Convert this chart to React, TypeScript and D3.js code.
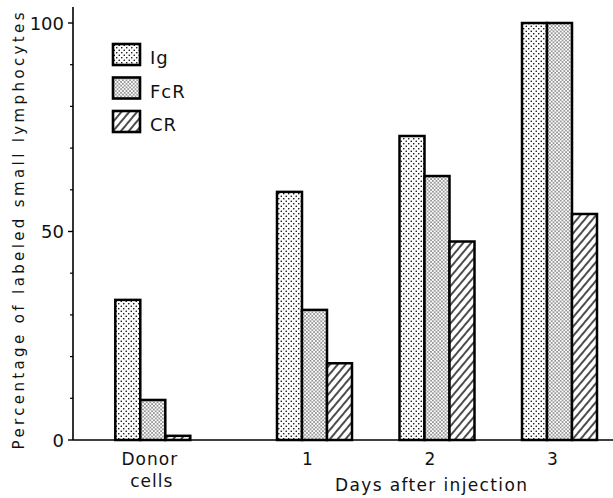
import React from "react";
import * as d3 from "d3";

// ---- data ----
const categories = ["Donor cells", "1", "2", "3"];
const seriesNames = ["Ig", "FcR", "CR"];
const igValues = [33.6, 59.5, 72.9, 100];
const fcrValues = [9.6, 31.2, 63.3, 100];
const crValues = [1, 18.4, 47.6, 54.2];
const yMajorTicks = [0, 50, 100];
const yMinorTicks = [10, 20, 30, 40, 60, 70, 80, 90];

// ---- layout ----
const W = 613;
const H = 498;
const categorySlots = [-0.32, 1, 2, 3];
const axisX = 73;
const baseY = 440;
const FONT = "'DejaVu Sans', 'Noto Sans', sans-serif";

export default function App() {
  const y = d3.scaleLinear().domain([0, 100]).range([baseY, 23]);
  const x = d3.scaleLinear().domain([1, 3]).range([314.5, 559.5]);
  const band = d3.scaleBand().domain(seriesNames).range([-37.5, 37.5]).padding(0);
  const seriesValues: Record<string, number[]> = { Ig: igValues, FcR: fcrValues, CR: crValues };
  const fills: Record<string, string> = { Ig: "url(#pIg)", FcR: "url(#pFcR)", CR: "url(#pCR)" };

  return (
    <svg width={W} height={H} style={{ position: "absolute", left: 0, top: 0, background: "#fff" }}>
      <defs>
        <pattern id="pIg" width={5} height={5} patternUnits="userSpaceOnUse">
          <rect width={5} height={5} fill="#fff" />
          <circle cx={1.25} cy={1.25} r={0.8} fill="#000" />
          <circle cx={3.75} cy={3.75} r={0.8} fill="#000" />
        </pattern>
        <pattern id="pFcR" width={3.6} height={3.6} patternUnits="userSpaceOnUse">
          <rect width={3.6} height={3.6} fill="#fff" />
          <circle cx={0.9} cy={0.9} r={0.7} fill="#000" />
          <circle cx={2.7} cy={2.7} r={0.7} fill="#000" />
        </pattern>
        <pattern id="pCR" width={6} height={6} patternUnits="userSpaceOnUse" patternTransform="rotate(40)">
          <rect width={6} height={6} fill="#fff" />
          <line x1={1} y1={0} x2={1} y2={6} stroke="#000" strokeWidth={1.4} />
        </pattern>
      </defs>

      {/* bars */}
      {categories.map((c, i) =>
        seriesNames.map((s) => {
          const v = seriesValues[s][i];
          const x0 = x(categorySlots[i]) + (band(s) as number);
          return (
            <rect
              key={c + s}
              x={x0}
              y={y(v)}
              width={band.bandwidth()}
              height={baseY - y(v)}
              fill={fills[s]}
              stroke="#000"
              strokeWidth={2.5}
            />
          );
        })
      )}

      {/* axes */}
      <line x1={axisX} y1={7} x2={axisX} y2={baseY} stroke="#000" strokeWidth={1.6} />
      <line x1={axisX} y1={baseY} x2={W} y2={baseY} stroke="#000" strokeWidth={1.6} />
      {yMajorTicks.map((t) => (
        <g key={"M" + t}>
          <line x1={axisX - 5} y1={y(t)} x2={axisX} y2={y(t)} stroke="#000" strokeWidth={1.4} />
          <text x={axisX - 9} y={y(t) + 6.5} textAnchor="end" fontFamily={FONT} fontSize={18} fill="#111">
            {t}
          </text>
        </g>
      ))}
      {yMinorTicks.map((t) => (
        <line key={"m" + t} x1={axisX - 3} y1={y(t)} x2={axisX} y2={y(t)} stroke="#000" strokeWidth={1.2} />
      ))}

      {/* y label */}
      <text
        transform={`translate(24, 231) rotate(-90)`}
        textAnchor="middle"
        fontFamily={FONT}
        fontSize={15}
        textLength={437}
        lengthAdjust="spacing"
        fill="#111"
      >
        Percentage of labeled small lymphocytes
      </text>

      {/* x labels */}
      <text x={x(categorySlots[0]) - 3} y={465} textAnchor="middle" fontFamily={FONT} fontSize={17} letterSpacing={1} fill="#111">
        Donor
      </text>
      <text x={x(categorySlots[0]) - 1} y={487} textAnchor="middle" fontFamily={FONT} fontSize={17} letterSpacing={1} fill="#111">
        cells
      </text>
      {categories.slice(1).map((c, i) => (
        <text key={c} x={x(categorySlots[i + 1]) - 7} y={465} textAnchor="middle" fontFamily={FONT} fontSize={17} fill="#111">
          {c}
        </text>
      ))}
      <text x={431} y={491} textAnchor="middle" fontFamily={FONT} fontSize={17} textLength={192} lengthAdjust="spacing" fill="#111">
        Days after injection
      </text>

      {/* legend */}
      {seriesNames.map((s, i) => (
        <g key={"leg" + s} transform={`translate(113, ${44 + i * 33.5})`}>
          <rect x={0} y={0} width={27} height={21} fill={fills[s]} stroke="#000" strokeWidth={2.6} />
          <text x={37} y={20} fontFamily={FONT} fontSize={18} letterSpacing={1} fill="#111">
            {s}
          </text>
        </g>
      ))}
    </svg>
  );
}
